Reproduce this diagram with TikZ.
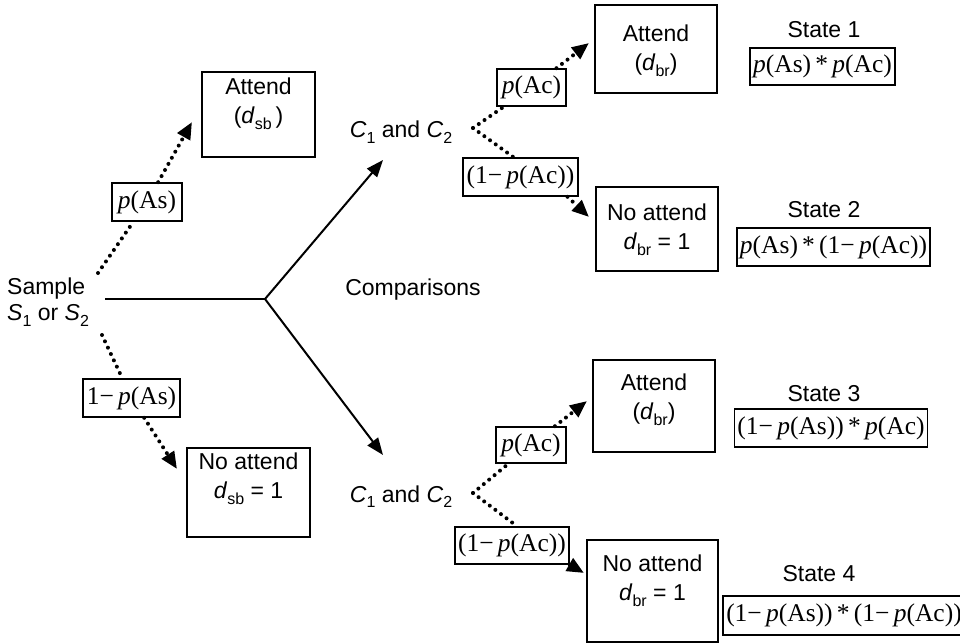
\documentclass[tikz,border=0pt]{standalone}
\usepackage{fontspec}
\setmainfont{Liberation Sans}
\newfontfamily\tms{Liberation Serif}
\usetikzlibrary{arrows.meta,calc}
\newcommand\lsub[1]{\raisebox{-0.25em}{\fontsize{16}{16}\selectfont #1}}
\newcommand\pp{\textit{p}}
\begin{document}
\begin{tikzpicture}[x=1pt,y=-1pt,
  sans/.style={font=\fontsize{23}{29}\selectfont, inner sep=0pt},
  boxnode/.style={draw, line width=2pt, fill=white, inner sep=0pt},
  probbox/.style={draw, line width=1.6pt, fill=white, font=\tms\fontsize{25.5}{30}\selectfont, inner xsep=3pt, inner ysep=0pt},
  dotline/.style={line width=4pt, line cap=round, dash pattern=on 0pt off 7pt},
  dotarrow/.style={dotline, -{Triangle[length=17pt,width=14pt]}},
  solidline/.style={line width=2pt},
  solidarrow/.style={solidline, -{Triangle[length=17pt,width=13pt]}},
  intext/.style={align=center, font=\fontsize{23}{29}\selectfont, inner sep=0pt, anchor=north},
]
\useasboundingbox (0,0) rectangle (960,644);

% left part
\node[sans, align=left, anchor=north west, font=\fontsize{23}{26}\selectfont] (sample) at (7,278) {Sample\\\textit{S}\lsub{1} or \textit{S}\lsub{2}};
\coordinate (hstart) at (105,299);
\coordinate (junc) at (265,299);
\coordinate (sU) at (98,273);
\coordinate (sL) at (102,335);

\node[boxnode, minimum width=113pt, minimum height=85pt,
  label={[intext,yshift=-7pt]north:{Attend\\(\textit{d}\lsub{sb}\,)}}] (asb) at (258.5,114.5) {};
\node[boxnode, minimum width=123pt, minimum height=89pt,
  label={[intext,yshift=-6pt]north:{No attend\\\textit{d}\lsub{sb} = 1}}] (nsb) at (248.5,492.5) {};

\node[probbox, minimum width=70pt, minimum height=38pt] (pAs) at (147,202) {\pp(As)};
\node[probbox, minimum width=97pt, minimum height=38pt] (qAs) at (131.5,398) {1−\,\pp(As)};

% middle
\node[sans, anchor=base] (c1up) at (401,138) {\textit{C}\lsub{1} and \textit{C}\lsub{2}};
\node[sans, anchor=base] (c1lo) at (401,502) {\textit{C}\lsub{1} and \textit{C}\lsub{2}};
\node[sans, anchor=base] (comp) at (413,295) {Comparisons};
\coordinate (tipU) at (383,160);
\coordinate (tipL) at (383,455);
\coordinate (fork1) at (473,128);
\coordinate (fork2) at (473,493);

\node[probbox, minimum width=69pt, minimum height=37pt] (pAc1) at (531.5,87.5) {\pp(Ac)};
\node[probbox, minimum width=115pt, minimum height=38pt] (qAc1) at (520.5,177) {(1−\,\pp(Ac))};
\node[probbox, minimum width=70pt, minimum height=36pt] (pAc2) at (531,445) {\pp(Ac)};
\node[probbox, minimum width=114pt, minimum height=37pt] (qAc2) at (512,545.5) {(1−\,\pp(Ac))};

% right boxes
\node[boxnode, minimum width=122pt, minimum height=88pt,
  label={[intext,yshift=-21pt]north:{Attend\\(\textit{d}\lsub{br})}}] (abr1) at (656,49) {};
\node[boxnode, minimum width=122pt, minimum height=84pt,
  label={[intext,yshift=-18pt]north:{No attend\\\textit{d}\lsub{br} = 1}}] (nbr1) at (657,229) {};
\node[boxnode, minimum width=122pt, minimum height=92pt,
  label={[intext,yshift=-15pt]north:{Attend\\(\textit{d}\lsub{br})}}] (abr2) at (654,406) {};
\node[boxnode, minimum width=131pt, minimum height=102pt,
  label={[intext,yshift=-16pt]north:{No attend\\\textit{d}\lsub{br} = 1}}] (nbr2) at (652.5,591) {};

% states
\node[sans, anchor=base] (s1t) at (824,38) {State 1};
\node[probbox, minimum width=143pt, minimum height=37pt] (s1) at (822.5,66.5) {\pp(As)\,*\,\pp(Ac)};
\node[sans, anchor=base] (s2t) at (824,218) {State 2};
\node[probbox, minimum width=189pt, minimum height=38pt] (s2) at (833.5,247) {\pp(As)\,*\,(1−\,\pp(Ac))};
\node[sans, anchor=base] (s3t) at (824,401) {State 3};
\node[probbox, minimum width=188pt, minimum height=38pt] (s3) at (831,428) {(1−\,\pp(As))\,*\,\pp(Ac)};
\node[sans, anchor=base] (s4t) at (819,581) {State 4};
\node[probbox, minimum width=228pt, minimum height=39pt] (s4) at (844,615.5) {(1−\,\pp(As))\,*\,(1−\,\pp(Ac))};

% solid connectors
\draw[solidline] (hstart) -- (junc);
\draw[solidarrow] (junc) -- (tipU);
\draw[solidarrow] (junc) -- (tipL);

% dotted connectors
\draw[dotline] (sU) -- (pAs);
\draw[dotarrow] (pAs) -- ([xshift=-9pt,yshift=-7.5pt]asb.west);
\draw[dotline] (sL) -- (qAs);
\draw[dotarrow] (qAs) -- ([xshift=-9pt,yshift=-22pt]nsb.north west);

\draw[dotline] (fork1) -- (pAc1);
\draw[dotarrow] (pAc1) -- ([xshift=-5pt,yshift=6pt]abr1.west);
\draw[dotline] (fork1) -- ([xshift=-7pt]qAc1.north);
\draw[dotarrow] ([xshift=47pt]qAc1.south) -- ([xshift=-6pt,yshift=12pt]nbr1.west);

\draw[dotline] (fork2) -- (pAc2);
\draw[dotarrow] (pAc2) -- ([xshift=-5pt,yshift=5pt]abr2.west);
\draw[dotline] (fork2) -- ([xshift=5pt]qAc2.north);
\draw[dotarrow] (qAc2.south east) -- ([xshift=-2pt,yshift=18pt]nbr2.west);
\end{tikzpicture}
\end{document}
